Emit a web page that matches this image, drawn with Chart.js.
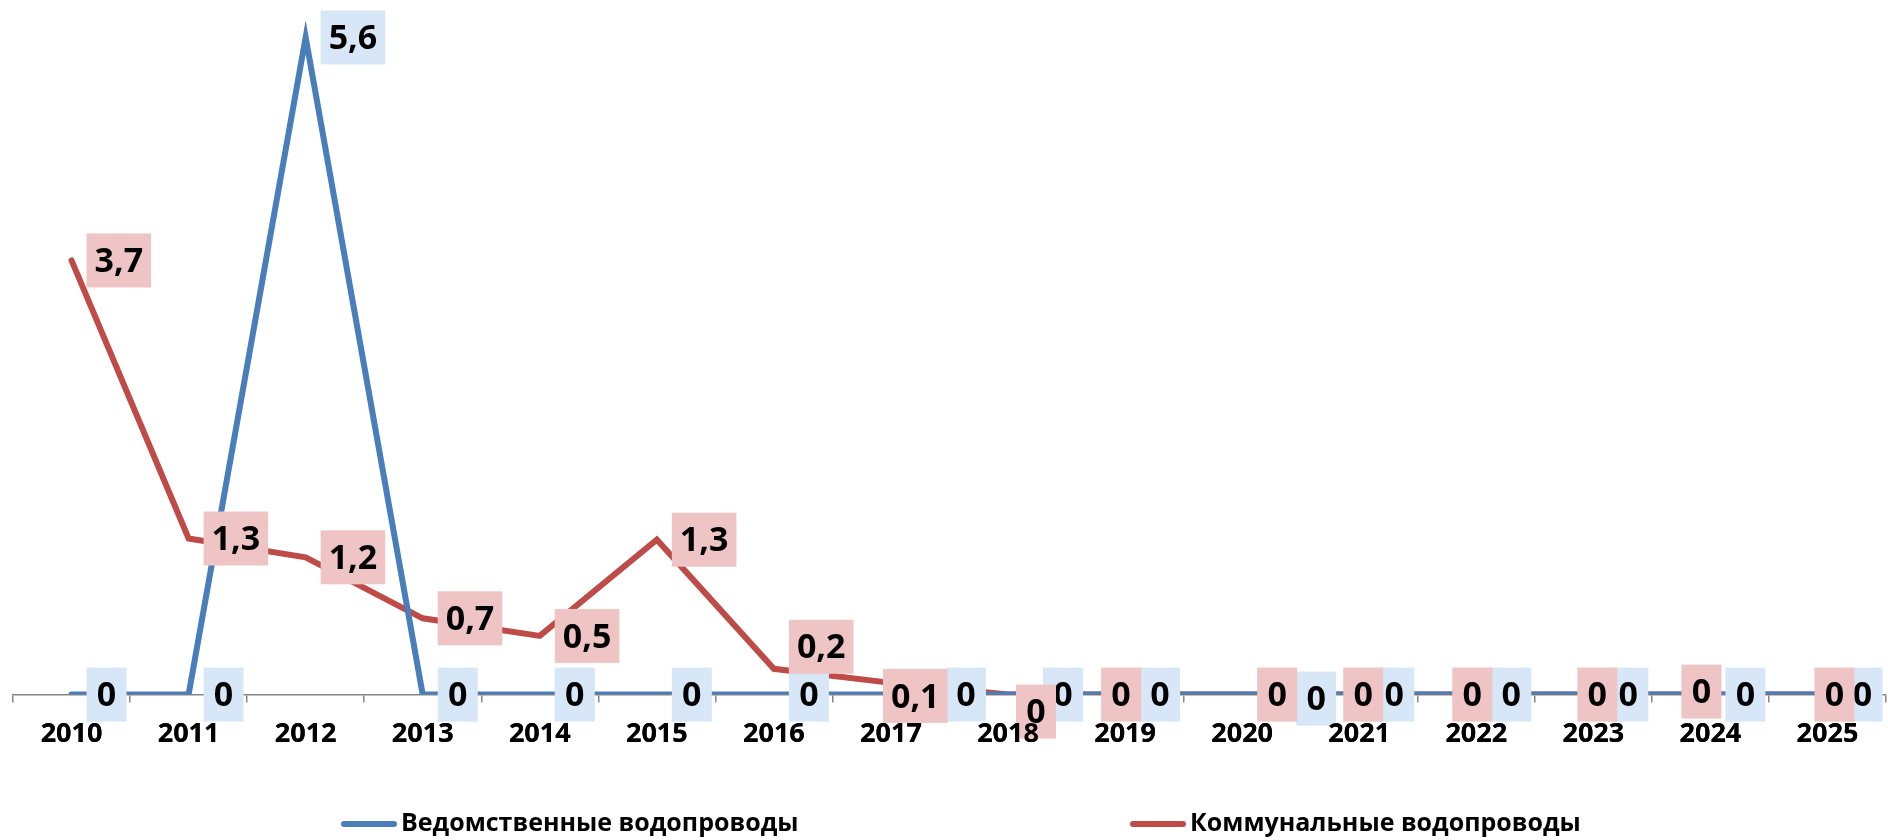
<!DOCTYPE html>
<html>
<head>
<meta charset="utf-8">
<script src="https://cdn.jsdelivr.net/npm/chart.js@4/dist/chart.umd.min.js"></script>
<style>
  body { margin: 0; background: #fff; }
  canvas { display: block; }
</style>
</head>
<body>
<canvas id="myChart" width="1888" height="840"></canvas>
<script>
var years = ['2010', '2011', '2012', '2013', '2014', '2015', '2016', '2017',
  '2018', '2019', '2020', '2021', '2022', '2023', '2024', '2025'];
var vedomstv = [0, 0, 5.6, 0, 0, 0, 0, 0, 0, 0, 0, 0, 0, 0, 0, 0];
var kommun = [3.7, 1.33, 1.17, 0.65, 0.5, 1.32, 0.22, 0.1, 0, 0, 0, 0, 0, 0, 0, 0];
var seriesNames = ['Ведомственные водопроводы', 'Коммунальные водопроводы'];

// hand-moved labels in the original (dx, dy from the default "right" spot)
var labelNudges = [
  { '2017': [40, 0], '2018': [20, 0], '2020': [39, 4] },
  {
    '2016': [0, -22], '2017': [-23, 13], '2018': [-7, 17], '2019': [-39, 0],
    '2021': [-31, 0], '2022': [-39, 0], '2023': [-31, 0], '2024': [-44, -3],
    '2025': [-28, 0]
  }
];
var labelFills = ['#d7e7f7', '#eec4c4'];

Chart.defaults.font.family = "'Open Sans', sans-serif";

function fmt(v) {
  if (v === 0) return '0';
  return v.toFixed(1).replace('.', ',');
}

var boxLabels = {
  id: 'boxLabels',
  afterDatasetsDraw: function (chart) {
    var ctx = chart.ctx;
    ctx.save();
    ctx.font = 'bold 34px "Open Sans"';
    ctx.textAlign = 'center';
    ctx.textBaseline = 'middle';
    chart.data.datasets.forEach(function (ds, i) {
      var meta = chart.getDatasetMeta(i);
      meta.data.forEach(function (pt, k) {
        var txt = fmt(ds.data[k]);
        var w = Math.max(ctx.measureText(txt).width + 16, 40);
        var h = 54;
        var n = labelNudges[i][years[k]] || [0, 0];
        var left = pt.x + 15 + n[0];
        var top = pt.y - h / 2 + n[1];
        ctx.fillStyle = labelFills[i];
        ctx.fillRect(left, top, w, h);
        ctx.fillStyle = '#000';
        ctx.fillText(txt, left + w / 2, top + h / 2 + 2);
      });
    });
    ctx.restore();
    // year labels stay readable on top of the moved boxes
    ctx.save();
    chart.scales.x.drawLabels(chart.chartArea);
    ctx.restore();
  }
};

var bottomLegend = {
  id: 'bottomLegend',
  afterDraw: function (chart) {
    var ctx = chart.ctx;
    var starts = [341, 1130];
    var y = 824;
    ctx.save();
    ctx.font = 'bold 25px "Open Sans"';
    ctx.textBaseline = 'middle';
    ctx.textAlign = 'left';
    chart.data.datasets.forEach(function (ds, i) {
      var x = starts[i];
      ctx.strokeStyle = ds.borderColor;
      ctx.lineWidth = 6;
      ctx.lineCap = 'round';
      ctx.beginPath();
      ctx.moveTo(x + 3, y);
      ctx.lineTo(x + 53, y);
      ctx.stroke();
      ctx.fillStyle = '#000';
      ctx.fillText(ds.label, x + 60, y);
    });
    ctx.restore();
  }
};

var ctx = document.getElementById('myChart');
var lineGraph = new Chart(ctx, {
  type: 'line',
  data: {
    labels: years,
    datasets: [
      {
        label: seriesNames[0],
        data: vedomstv,
        borderColor: '#4a7ebb',
        borderWidth: 6,
        borderCapStyle: 'round',
        pointRadius: 0,
        tension: 0,
        fill: false
      },
      {
        label: seriesNames[1],
        data: kommun,
        borderColor: '#be4b48',
        borderWidth: 6,
        borderCapStyle: 'round',
        pointRadius: 0,
        tension: 0,
        fill: false
      }
    ]
  },
  options: {
    responsive: false,
    animation: false,
    devicePixelRatio: 1,
    layout: { padding: { left: 13, right: 2, top: 14, bottom: 73 } },
    plugins: {
      legend: { display: false },
      tooltip: { enabled: false }
    },
    scales: {
      x: {
        offset: true,
        grid: {
          offset: true,
          drawOnChartArea: false,
          drawTicks: true,
          tickLength: 8,
          color: '#868686',
          lineWidth: 1.5
        },
        border: { color: '#868686', width: 1.5 },
        ticks: {
          color: '#000',
          padding: 16,
          maxRotation: 0,
          autoSkip: false,
          font: { size: 27, weight: 'bold' }
        }
      },
      y: {
        display: false,
        min: 0,
        max: 5.8
      }
    }
  },
  plugins: [boxLabels, bottomLegend]
});
</script>
</body>
</html>
